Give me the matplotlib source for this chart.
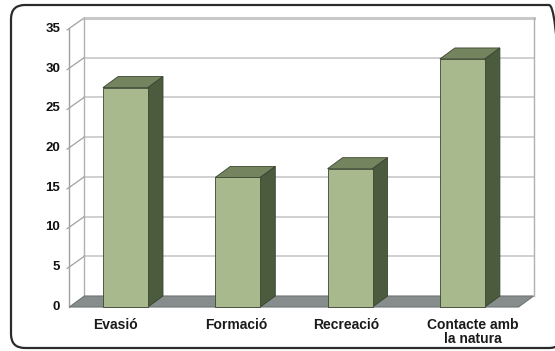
import matplotlib
matplotlib.use("Agg")
import matplotlib.pyplot as plt
from matplotlib.patches import Polygon, FancyBboxPatch

# data
categories = ["Evasió", "Formació", "Recreació", "Contacte amb\nla natura"]
values = [27.6, 16.3, 17.4, 31.2]
yticks = [0, 5, 10, 15, 20, 25, 30, 35]

# colours
front_col = "#a9b98e"
top_col = "#74845f"
side_col = "#4b5b3e"
edge_col = "#3a4530"
floor_col = "#878c8c"
grid_col = "#c8c8c8"

W, H = 555, 351
fig = plt.figure(figsize=(W / 100, H / 100), dpi=100)
ax = fig.add_axes([0, 0, 1, 1])

# pixel geometry of the plot (front plane)
x0_px, step_px = 125.5, 112.3      # first category centre, spacing
y0_px, unit_px = 307, 7.95         # value 0 (from top), px per unit
ax.set_xlim(-x0_px / step_px, (W - x0_px) / step_px)
ax.set_ylim(-(H - y0_px) / unit_px, y0_px / unit_px)
ax.axis("off")

dx = 15 / step_px   # depth offset
dy = 11 / unit_px
left, right = -0.5, len(categories) - 0.5
ymax = yticks[-1]
bw = 45 / step_px

# back wall gridlines
for t in yticks[1:]:
    ax.plot([left + dx, right + dx], [t + dy, t + dy], color=grid_col, lw=1.2, zorder=1)
    ax.plot([left - 0.02, left + dx], [t - 0.15, t + dy], color="#a0a0a0", lw=0.9, zorder=1)
ax.plot([left + dx, right + dx], [ymax + dy, ymax + dy], color="#c8c8c8", lw=2.2, zorder=1)
ax.plot([left + dx, left + dx], [dy, ymax + dy], color="#b0b0b0", lw=1.0, zorder=1)
ax.plot([right + dx, right + dx], [dy, ymax + dy], color="#b0b0b0", lw=1.0, zorder=1)
ax.plot([left, left], [0, ymax], color="#a0a0a0", lw=1.0, zorder=1)

# floor
floor = Polygon([(left, 0), (right, 0), (right + dx, dy), (left + dx, dy)],
                closed=True, facecolor=floor_col, edgecolor="#6f7474", lw=0.8, zorder=2)
ax.add_patch(floor)

# bars
xs = list(range(len(categories)))
ax.bar(xs, values, width=bw, color=front_col, edgecolor=edge_col, lw=0.6, zorder=4)
for x, v in zip(xs, values):
    xa, xb = x - bw / 2, x + bw / 2
    top = Polygon([(xa, v), (xb, v), (xb + dx, v + dy), (xa + dx, v + dy)],
                  closed=True, facecolor=top_col, edgecolor=edge_col, lw=0.6, zorder=3)
    side = Polygon([(xb, 0), (xb + dx, dy), (xb + dx, v + dy), (xb, v)],
                   closed=True, facecolor=side_col, edgecolor=edge_col, lw=0.6, zorder=3)
    ax.add_patch(top)
    ax.add_patch(side)

# tick labels
for t in yticks:
    ax.annotate(str(t), (left, t), xytext=(-9, 0), textcoords="offset pixels",
                ha="right", va="center", fontsize=9.5, fontweight="bold",
                family="Liberation Sans", color="#111111")

label_shift = [-10, -2, -4, 10]   # pixel shifts of the category labels
for x, lab, s in zip(xs, categories, label_shift):
    ax.annotate(lab, (x, 0), xytext=(s, -11), textcoords="offset pixels",
                ha="center", va="top", fontsize=10, fontweight="bold",
                family="Liberation Sans", color="#1a1a1a", linespacing=1.0)

# rounded frame round the whole chart
frame = FancyBboxPatch((11, 3), 552, 343, boxstyle="round,pad=0,rounding_size=14",
                       transform=None, facecolor="none", edgecolor="#2b2b2b", lw=1.6)
fig.add_artist(frame)

fig.savefig("out.png", dpi=100)
